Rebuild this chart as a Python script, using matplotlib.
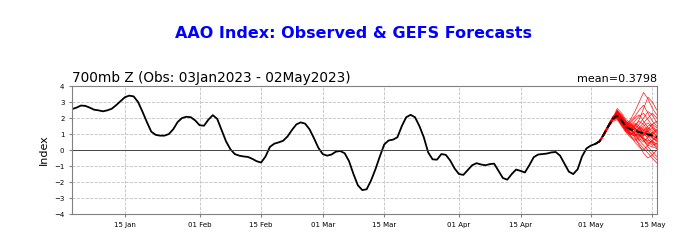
import datetime as dt

import matplotlib
matplotlib.use("Agg")
import matplotlib.dates as mdates
import matplotlib.pyplot as plt

OBS_START = dt.date(2023, 1, 3)
FCST_START = dt.date(2023, 5, 2)

# observed AAO index, daily 03 Jan - 02 May 2023
obs = [
    2.56, 2.65, 2.78, 2.76, 2.65, 2.52, 2.48, 2.42, 2.48, 2.58,
    2.80, 3.05, 3.30, 3.40, 3.35, 3.00, 2.40, 1.75, 1.15, 0.95,
    0.90, 0.90, 1.00, 1.30, 1.75, 2.00, 2.08, 2.05, 1.85, 1.55,
    1.52, 1.90, 2.18, 1.95, 1.25, 0.55, 0.05, -0.25, -0.35, -0.40,
    -0.43, -0.55, -0.70, -0.78, -0.40, 0.20, 0.40, 0.48, 0.58, 0.85,
    1.25, 1.60, 1.73, 1.65, 1.30, 0.75, 0.15, -0.25, -0.35, -0.28,
    -0.10, -0.06, -0.20, -0.70, -1.50, -2.20, -2.50, -2.45, -1.90, -1.20,
    -0.40, 0.35, 0.60, 0.65, 0.80, 1.50, 2.05, 2.20, 2.05, 1.50,
    0.80, -0.15, -0.58, -0.60, -0.25, -0.30, -0.65, -1.15, -1.50, -1.55,
    -1.25, -0.95, -0.82, -0.90, -0.95, -0.88, -0.85, -1.30, -1.75, -1.85,
    -1.50, -1.22, -1.30, -1.40, -0.95, -0.45, -0.28, -0.25, -0.22, -0.15,
    -0.12, -0.35, -0.85, -1.35, -1.50, -1.20, -0.40, 0.10, 0.28, 0.38,
]

# GEFS members, daily 02 May - 16 May
members = [
    [0.38, 0.52, 0.95, 1.45, 1.95, 2.25, 1.90, 1.50, 1.30, 1.10, 0.90, 0.70, 0.60, 0.50, 0.40],
    [0.38, 0.58, 1.05, 1.55, 2.05, 2.45, 2.10, 1.70, 1.60, 1.80, 2.10, 2.30, 1.90, 1.50, 1.20],
    [0.38, 0.50, 0.90, 1.40, 1.85, 2.00, 1.60, 1.20, 0.90, 0.70, 0.40, 0.10, -0.20, -0.50, -0.80],
    [0.38, 0.55, 1.00, 1.50, 2.00, 2.30, 2.00, 1.60, 1.40, 1.50, 1.90, 2.60, 3.30, 3.00, 2.50],
    [0.38, 0.60, 1.10, 1.60, 2.10, 2.20, 1.80, 1.30, 1.00, 0.90, 1.10, 1.30, 1.00, 0.70, 0.60],
    [0.38, 0.53, 0.98, 1.48, 1.90, 2.10, 1.70, 1.40, 1.50, 1.70, 1.50, 1.20, 0.90, 1.10, 1.30],
    [0.38, 0.56, 1.02, 1.52, 1.98, 2.60, 2.30, 1.90, 1.70, 1.40, 1.00, 0.60, 0.30, 0.20, 0.10],
    [0.38, 0.54, 0.96, 1.42, 1.80, 1.90, 1.50, 1.10, 0.80, 0.60, 0.80, 1.20, 1.50, 1.60, 1.40],
    [0.38, 0.57, 1.04, 1.56, 2.02, 2.35, 1.95, 1.60, 1.90, 2.40, 3.00, 3.60, 3.20, 2.60, 2.20],
    [0.38, 0.51, 0.94, 1.44, 1.88, 2.05, 1.75, 1.30, 1.10, 0.80, 0.30, -0.20, -0.50, -0.30, 0.00],
    [0.38, 0.59, 1.08, 1.58, 2.08, 2.20, 1.85, 1.55, 1.35, 1.25, 1.30, 1.50, 1.70, 1.40, 1.00],
    [0.38, 0.55, 1.00, 1.50, 1.95, 2.15, 1.80, 1.40, 1.20, 1.00, 0.70, 0.50, 0.80, 1.10, 0.90],
    [0.38, 0.53, 0.97, 1.47, 1.92, 2.40, 2.20, 1.80, 1.50, 1.30, 1.60, 2.00, 2.40, 2.20, 1.70],
    [0.38, 0.56, 1.03, 1.53, 2.00, 2.10, 1.70, 1.25, 1.00, 1.20, 1.00, 0.60, 0.20, -0.10, -0.40],
    [0.38, 0.52, 0.96, 1.46, 1.90, 2.30, 1.95, 1.50, 1.60, 1.40, 1.10, 0.90, 1.30, 1.60, 1.80],
    [0.38, 0.58, 1.06, 1.56, 2.04, 2.05, 1.65, 1.30, 1.20, 1.50, 1.80, 1.60, 1.20, 0.80, 0.50],
    [0.38, 0.54, 0.99, 1.49, 1.96, 2.50, 2.15, 1.75, 1.40, 1.00, 0.60, 0.90, 1.20, 0.90, 0.70],
    [0.38, 0.55, 1.01, 1.51, 1.97, 2.00, 1.60, 1.20, 0.95, 1.10, 1.40, 1.10, 0.70, 0.40, 0.20],
    [0.38, 0.57, 1.05, 1.55, 2.03, 2.25, 1.90, 1.60, 1.80, 2.10, 2.50, 2.80, 2.30, 1.80, 1.50],
    [0.38, 0.52, 0.95, 1.45, 1.90, 1.95, 1.55, 1.15, 0.90, 0.50, 0.20, 0.00, 0.30, 0.60, 0.90],
    [0.38, 0.56, 1.02, 1.52, 1.99, 2.20, 1.85, 1.45, 1.25, 1.35, 1.20, 0.80, 0.50, 0.30, 0.40],
    [0.38, 0.53, 0.97, 1.46, 1.93, 2.35, 2.05, 1.65, 1.45, 1.20, 1.40, 1.70, 2.00, 2.30, 2.00],
    [0.38, 0.55, 1.00, 1.50, 1.98, 2.10, 1.75, 1.35, 1.05, 0.85, 0.60, 0.30, 0.00, -0.30, -0.60],
    [0.38, 0.59, 1.07, 1.57, 2.06, 2.40, 2.05, 1.70, 1.50, 1.60, 1.40, 1.00, 0.80, 1.00, 1.20],
    [0.38, 0.54, 0.98, 1.48, 1.94, 2.15, 1.80, 1.40, 1.30, 1.00, 0.80, 1.00, 1.40, 1.20, 0.80],
    [0.38, 0.56, 1.03, 1.54, 2.01, 2.00, 1.70, 1.50, 1.70, 2.00, 2.20, 1.80, 1.40, 1.00, 0.70],
    [0.38, 0.51, 0.93, 1.42, 1.86, 2.25, 1.85, 1.35, 1.10, 0.90, 1.00, 0.70, 0.40, 0.60, 0.30],
    [0.38, 0.58, 1.06, 1.58, 2.05, 2.30, 1.95, 1.55, 1.25, 1.00, 0.90, 1.10, 0.90, 0.50, 0.10],
    [0.38, 0.55, 1.00, 1.50, 1.95, 2.10, 1.80, 1.45, 1.35, 1.55, 1.30, 1.00, 1.20, 1.40, 1.10],
    [0.38, 0.53, 0.98, 1.48, 1.92, 2.45, 2.10, 1.80, 1.60, 1.30, 1.20, 1.40, 1.10, 0.80, 0.60],
]

# ensemble mean
ens_mean = [0.38, 0.55, 1.00, 1.50, 1.95, 2.15, 1.85, 1.45, 1.30, 1.20, 1.12, 1.05, 0.98, 0.90, 0.80]

obs_dates = [OBS_START + dt.timedelta(days=i) for i in range(len(obs))]
fcst_dates = [FCST_START + dt.timedelta(days=i) for i in range(len(ens_mean))]

fig = plt.figure(figsize=(6.87, 2.43), dpi=100)
ax = fig.add_axes([0.105, 0.119, 0.851, 0.527])

for m in members:
    ax.plot(fcst_dates, m, color="red", lw=0.5, alpha=0.9)
ax.plot(obs_dates, obs, color="black", lw=1.3)
ax.plot(fcst_dates, ens_mean, color="black", lw=1.4, ls="--")
ax.axhline(0, color="#444444", lw=0.7)

ax.set_xlim(OBS_START, fcst_dates[-1])
ax.set_ylim(-4, 4)
ax.set_yticks(range(-4, 5))
ax.xaxis.set_major_locator(mdates.DayLocator(bymonthday=[1, 15]))
ax.xaxis.set_major_formatter(mdates.DateFormatter("%d %b"))
ax.tick_params(labelsize=5, length=2, color="gray")
ax.grid(True, ls="--", color="#c0c0c0", lw=0.6)
for s in ax.spines.values():
    s.set_color("gray")

ax.set_ylabel("Index", fontsize=8)
ax.set_title("700mb Z (Obs: 03Jan2023 - 02May2023)", loc="left", fontsize=9.8, pad=3)
ax.set_title("mean=0.3798", loc="right", fontsize=8, pad=3)
fig.suptitle("AAO Index: Observed & GEFS Forecasts", color="blue",
             fontweight="bold", fontsize=11.5, x=0.515, y=0.895)

fig.savefig("out.png", dpi=100)
